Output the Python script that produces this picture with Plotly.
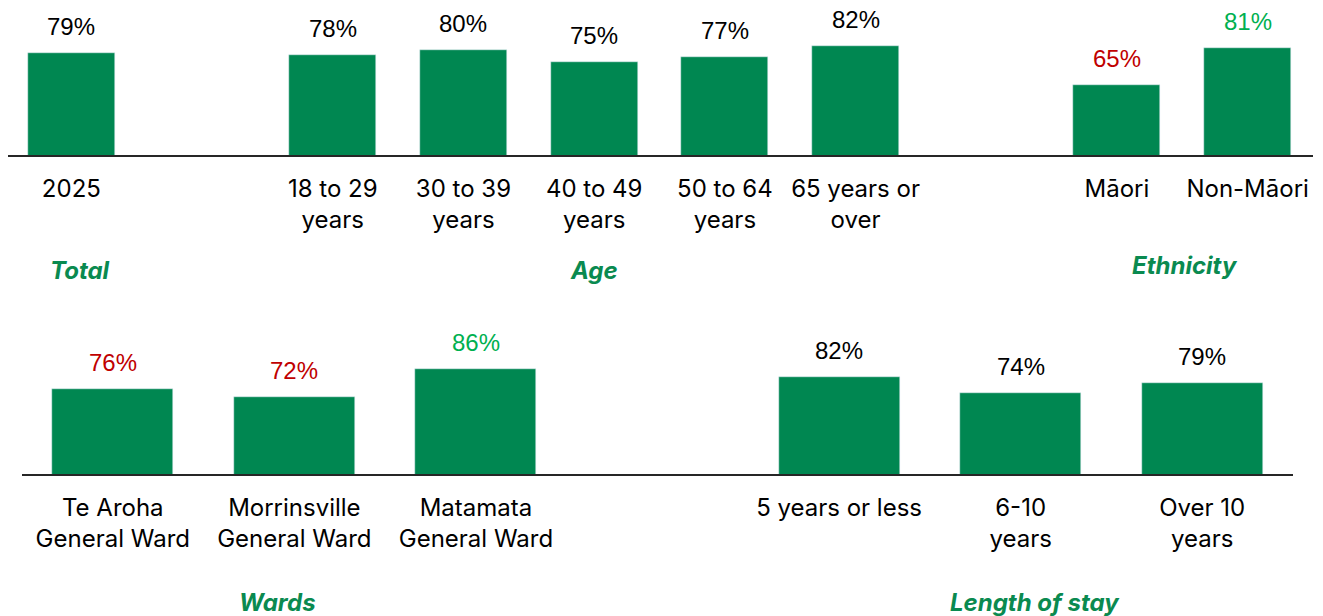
import plotly.graph_objects as go

# ---------------- data ----------------
total_cats = ["2025"]
total_vals = [79]
total_colors = ["#000000"]

age_cats = ["18 to 29<br>years", "30 to 39<br>years", "40 to 49<br>years", "50 to 64<br>years", "65 years or<br>over"]
age_vals = [78, 80, 75, 77, 82]
age_colors = ["#000000"] * 5

eth_cats = ["Māori", "Non-Māori"]
eth_vals = [65, 81]
eth_colors = ["#C00000", "#00B050"]

ward_cats = ["Te Aroha<br>General Ward", "Morrinsville<br>General Ward", "Matamata<br>General Ward"]
ward_vals = [76, 72, 86]
ward_colors = ["#C00000", "#C00000", "#00B050"]

stay_cats = ["5 years or less", "6-10<br>years", "Over 10<br>years"]
stay_vals = [82, 74, 79]
stay_colors = ["#000000"] * 3

BAR = "#008751"
TITLE_GREEN = "#0A8A50"
OFF = 8  # page body margin
W, H = 1323 - OFF, 616 - OFF


def px_y(ry):
    """reference pixel row -> paper fraction"""
    return (H - (ry - OFF)) / H


top_groups = [("Total", total_cats, total_vals, total_colors, 9, 270),
              ("Age", age_cats, age_vals, age_colors, 0, 270),
              ("Ethnicity", eth_cats, eth_vals, eth_colors, 3, 265)]
bot_groups = [("Wards", ward_cats, ward_vals, ward_colors, -17, 602),
              ("Length of stay", stay_cats, stay_vals, stay_colors, 14, 602)]

fig = go.Figure()
annotations = []


def add_row(groups, xa, ya):
    pos = 0
    tickvals, ticktext = [], []
    xs, ys = [], []
    for title, cats, vals, cols, dx, ty in groups:
        gx = []
        for c, v, col in zip(cats, vals, cols):
            xs.append(pos)
            ys.append(v)
            tickvals.append(pos)
            ticktext.append(c)
            gx.append(pos)
            annotations.append(dict(x=pos, y=v, xref=xa, yref=ya, text=f"{v}%",
                                    showarrow=False, yanchor="bottom", yshift=11,
                                    font=dict(family="Liberation Sans, Arial", size=24, color=col)))
            pos += 1
        annotations.append(dict(x=(gx[0] + gx[-1]) / 2, y=px_y(ty), xref=xa, yref="paper",
                                text=f"<b><i>{title}</i></b>", showarrow=False, xshift=dx,
                                yanchor="middle",
                                font=dict(family="Inter, Liberation Sans", size=24, color=TITLE_GREEN)))
        pos += 1  # empty slot between groups
    fig.add_trace(go.Bar(x=xs, y=ys, marker_color=BAR, width=0.666,
                         xaxis=xa, yaxis=ya, showlegend=False, hoverinfo="skip"))
    return tickvals, ticktext, pos - 1


tv1, tt1, n1 = add_row(top_groups, "x", "y")
tv2, tt2, n2 = add_row(bot_groups, "x2", "y2")

tick_font = dict(family="Inter, Liberation Sans", size=24, color="#000000")

# top row geometry (reference pixels)
t_slot = (1313 - 6) / n1
t_base = 155.3
b_base = 474.0

fig.update_layout(
    width=W, height=H,
    margin=dict(l=0, r=0, t=0, b=0),
    paper_bgcolor="white", plot_bgcolor="white",
    bargap=0,
    annotations=annotations,
    xaxis=dict(domain=[0, (1313 - OFF) / W], range=[-0.5 + (OFF - 6) / t_slot, n1 - 0.5],
               tickvals=tv1, ticktext=tt1,
               showline=True, linecolor="#262626", linewidth=2, showgrid=False, zeroline=False,
               ticks="", tickfont=tick_font, ticklabelstandoff=11, anchor="y"),
    yaxis=dict(domain=[px_y(t_base), 1.0], range=[35, 35 + (t_base - OFF) / 2.33], visible=False,
               anchor="x"),
    xaxis2=dict(domain=[(22 - OFF) / W, (1293 - OFF) / W], range=[-0.5, n2 - 0.5],
                tickvals=tv2, ticktext=tt2,
                showline=True, linecolor="#262626", linewidth=2, showgrid=False, zeroline=False,
                ticks="", tickfont=tick_font, ticklabelstandoff=11, anchor="y2"),
    yaxis2=dict(domain=[px_y(b_base), px_y(320)], range=[33, 33 + (b_base - 320) / 1.98],
                visible=False, anchor="x2"),
)

fig.write_html("out.html")
